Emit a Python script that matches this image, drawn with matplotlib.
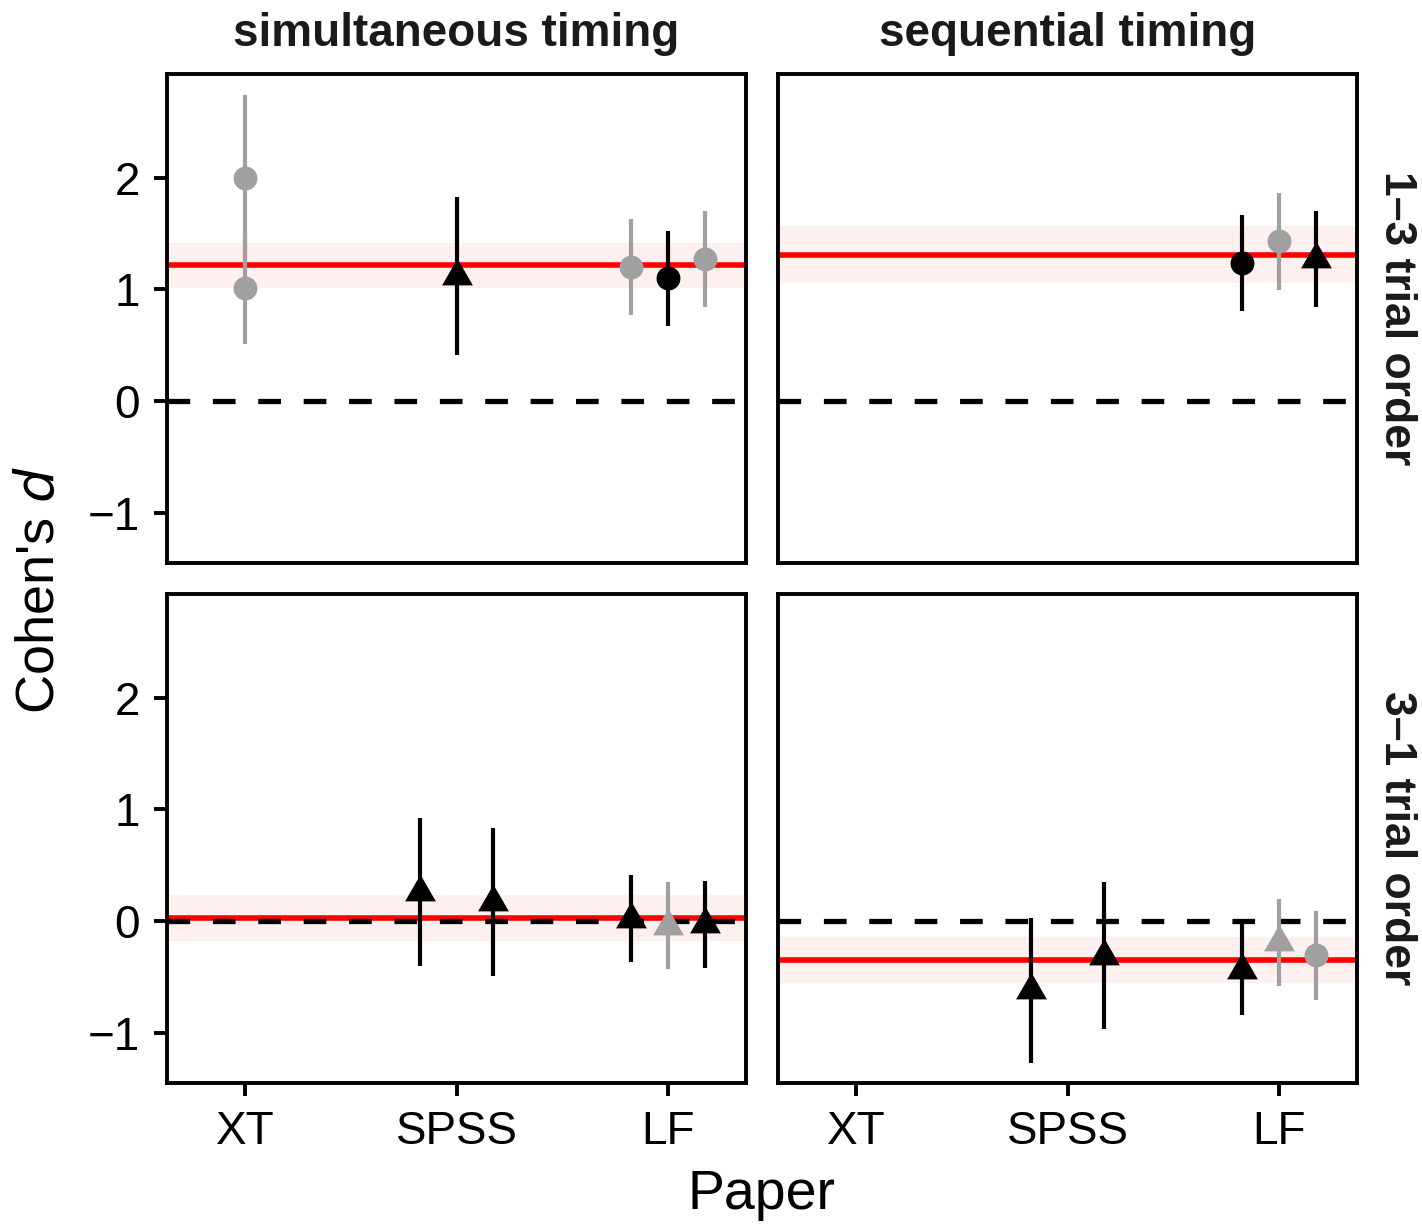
import matplotlib
matplotlib.use("Agg")
import matplotlib.pyplot as plt

plt.rcParams["font.family"] = ["Liberation Sans", "DejaVu Sans"]

# categorias del eje x
papers = ["XT", "SPSS", "LF"]
timings = ["simultaneous timing", "sequential timing"]
orders = ["1\u20133 trial order", "3\u20131 trial order"]

# cada panel: (fila, columna)
# puntos: paper, slot de dodge, d, semiancho del IC, forma, color
p_paper = {
    (0, 0): ["XT", "XT", "SPSS", "LF", "LF", "LF"],
    (0, 1): ["LF", "LF", "LF"],
    (1, 0): ["SPSS", "SPSS", "LF", "LF", "LF"],
    (1, 1): ["SPSS", "SPSS", "LF", "LF", "LF"],
}
p_slot = {
    (0, 0): [0, 0, 0, -1, 0, 1],
    (0, 1): [-1, 0, 1],
    (1, 0): [-1, 1, -1, 0, 1],
    (1, 1): [-1, 1, -1, 0, 1],
}
p_d = {
    (0, 0): [2.00, 1.01, 1.12, 1.20, 1.10, 1.27],
    (0, 1): [1.24, 1.43, 1.275],
    (1, 0): [0.26, 0.17, 0.02, -0.04, -0.03],
    (1, 1): [-0.62, -0.31, -0.435, -0.19, -0.305],
}
p_ci = {
    (0, 0): [0.74, 0.50, 0.71, 0.43, 0.425, 0.43],
    (0, 1): [0.43, 0.436, 0.43],
    (1, 0): [0.66, 0.66, 0.39, 0.39, 0.39],
    (1, 1): [0.65, 0.66, 0.405, 0.39, 0.40],
}
p_shape = {
    (0, 0): ["o", "o", "^", "o", "o", "o"],
    (0, 1): ["o", "o", "^"],
    (1, 0): ["^", "^", "^", "^", "^"],
    (1, 1): ["^", "^", "^", "^", "o"],
}
p_grey = {
    (0, 0): [1, 1, 0, 1, 0, 1],
    (0, 1): [0, 1, 0],
    (1, 0): [0, 0, 0, 1, 0],
    (1, 1): [0, 0, 0, 1, 1],
}

# efecto meta-analitico (linea roja) y su IC (banda)
meta_d = {(0, 0): 1.215, (0, 1): 1.313, (1, 0): 0.03, (1, 1): -0.345}
meta_ci = {(0, 0): 0.205, (0, 1): 0.255, (1, 0): 0.205, (1, 1): 0.205}

GRIS = "#a0a0a0"
DODGE = 0.175

fig = plt.figure(figsize=(7.11, 6.135), dpi=200)

lefts = [167 / 1422, 778 / 1422]
bottoms = [1 - 563 / 1227, 1 - 1083 / 1227]
w = (746 - 167) / 1422
h = (563 - 74) / 1227

# triangulo tipo pch 17, centrado en el baricentro
th = 0.866
tri = [(-0.5, -th / 3), (0.5, -th / 3), (0.0, 2 * th / 3), (-0.5, -th / 3)]

for fila in range(2):
    for col in range(2):
        ax = fig.add_axes([lefts[col], bottoms[fila], w, h])
        key = (fila, col)
        m, c = meta_d[key], meta_ci[key]
        ax.axhspan(m - c, m + c, color="red", alpha=0.06, lw=0, zorder=1)
        ax.axhline(m, color="red", lw=2.0, zorder=2)
        ax.axhline(0, color="black", lw=1.9, dashes=(4.3, 4.3), zorder=3)

        for pp, sl, d, ci, sh, gr in zip(p_paper[key], p_slot[key], p_d[key],
                                        p_ci[key], p_shape[key], p_grey[key]):
            x = papers.index(pp) + 1 + sl * DODGE
            color = GRIS if gr else "black"
            ax.plot([x, x], [d - ci, d + ci], color=color, lw=1.5,
                    solid_capstyle="butt", zorder=4)
            if sh == "o":
                ax.plot(x, d, marker="o", ms=8.6, color=color, mec="none", zorder=5)
            else:
                ax.plot(x, d, marker=tri, ms=12.8, color=color, mec="none", zorder=5)

        ax.set_xlim(0.63, 3.37)
        ax.set_ylim(-1.45, 2.93)
        ax.set_xticks([1, 2, 3])
        ax.set_yticks([-1, 0, 1, 2])
        for s in ax.spines.values():
            s.set_linewidth(1.4)
        ax.tick_params(length=4.7, width=1.4, labelsize=16.5, colors="black", pad=5)

        if fila == 0:
            ax.tick_params(axis="x", bottom=False, labelbottom=False)
            ax.set_title(timings[col], fontsize=16.5, fontweight="bold",
                         color="#1a1a1a", pad=10)
        else:
            ax.set_xticklabels(papers)
        if col == 1:
            ax.tick_params(axis="y", left=False, labelleft=False)
            ax.text(1.033, 0.5, orders[fila], transform=ax.transAxes,
                    rotation=270, ha="left", va="center", fontsize=16,
                    fontweight="bold", color="#1a1a1a")

fig.text(762 / 1422, 1 - 1195 / 1227, "Paper", ha="center", va="center", fontsize=20)
fig.text(40 / 1422, 1 - 590 / 1227, "Cohen's $d$", ha="center", va="center",
         fontsize=19.5, rotation=90)

fig.savefig("out.png", dpi=200)
